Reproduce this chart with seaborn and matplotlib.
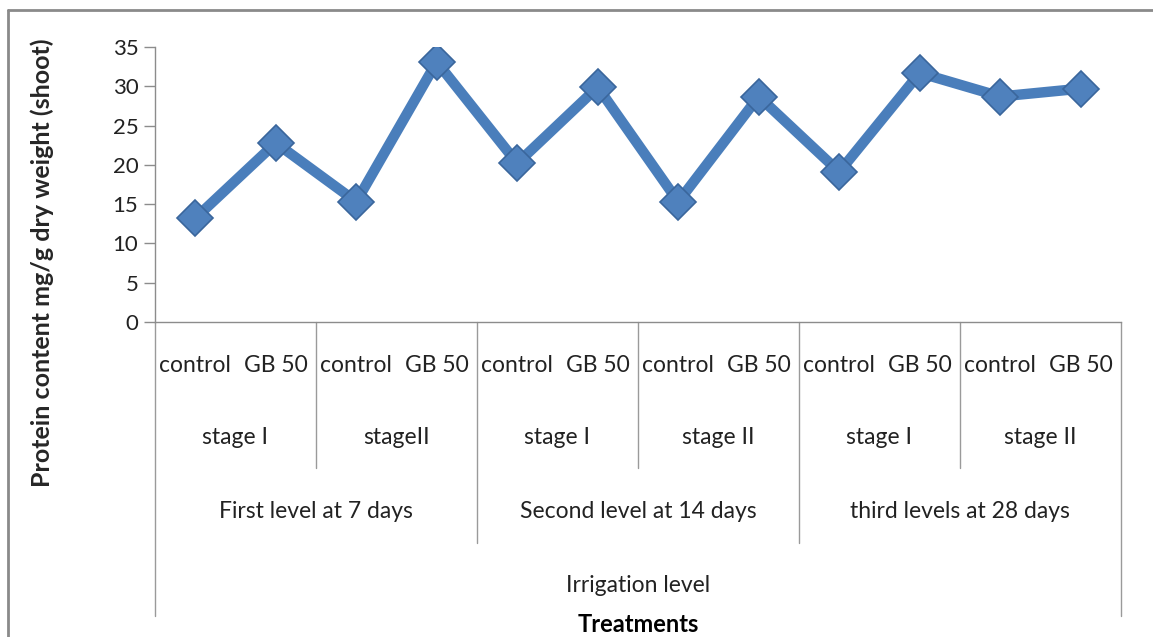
import numpy as np
import pandas as pd
import matplotlib.pyplot as plt
import matplotlib.transforms as mtransforms
from matplotlib.lines import Line2D
import seaborn as sns

# data
treatments = ["control", "GB 50"] * 6
stages = ["stage I", "stageII", "stage I", "stage II", "stage I", "stage II"]
levels = ["First level at 7 days", "Second level at 14 days", "third levels at 28 days"]
protein = [13.2, 22.8, 15.3, 33.1, 20.2, 29.9, 15.3, 28.7, 19.1, 31.7, 28.7, 29.7]
yticks = [0, 5, 10, 15, 20, 25, 30, 35]

df = pd.DataFrame({"pos": np.arange(len(protein)), "treatment": treatments, "protein": protein})

sns.set_style("white")
plt.rcParams['font.family'] = ['Lato', 'DejaVu Sans']

W, H = 1153, 637
fig = plt.figure(figsize=(W / 100, H / 100), dpi=100)
# plot area in pixels: x 155..1121, y 47..322
ax = fig.add_axes([155 / W, (H - 322) / H, (1121 - 155) / W, (322 - 47) / H])

sns.lineplot(data=df, x="pos", y="protein", ax=ax, sort=False,
             color="#4a7ebb", linewidth=7.5, marker="D", markersize=18.5,
             markerfacecolor="#4f81bd", markeredgecolor="#3a669c", markeredgewidth=1.2)

ax.set_xlim(-0.5, len(protein) - 0.5)
ax.set_ylim(0, 35)
ax.set_yticks(yticks)
ax.set_yticklabels([str(v) for v in yticks], fontsize=16, color="#222222")
ax.set_xticks([])
ax.set_xlabel("")
ax.set_ylabel("")
ax.tick_params(axis="y", left=True, length=8, width=1, color="#8c8c8c", pad=4)
for s in ["top", "right"]:
    ax.spines[s].set_visible(False)
for s in ["left", "bottom"]:
    ax.spines[s].set_color("#8c8c8c")
    ax.spines[s].set_linewidth(1)

# multi-level category axis drawn as a table under the plot
trans = mtransforms.blended_transform_factory(ax.transData, ax.transAxes)
ah = 322 - 47
def yf(py):
    return (322 - py) / ah

fs = 16.5
n = len(protein)
for i, t in enumerate(treatments):
    ax.text(i, yf(365), t, transform=trans, ha="center", va="center", fontsize=fs, color="#222222")
for j, s in enumerate(stages):
    ax.text(2 * j + 0.5, yf(438), s, transform=trans, ha="center", va="center", fontsize=fs, color="#222222")
for k, l in enumerate(levels):
    ax.text(4 * k + 1.5, yf(511), l, transform=trans, ha="center", va="center", fontsize=fs, color="#222222")
ax.text((n - 1) / 2, yf(585), "Irrigation level", transform=trans, ha="center", va="center",
        fontsize=fs, color="#222222")
ax.text((n - 1) / 2, yf(625), "Treatments", transform=trans, ha="center", va="center",
        fontsize=17, fontweight="bold", color="black")

for b in range(0, n + 1, 2):
    if b in (0, n):
        bottom = yf(616)
    elif b % 4 == 0:
        bottom = yf(543)
    else:
        bottom = yf(468)
    ax.plot([b - 0.5, b - 0.5], [0, bottom], transform=trans, color="#9a9a9a",
            linewidth=1, clip_on=False)

fig.text(42 / W, (H - 263) / H, "Protein content mg/g dry weight (shoot)", rotation=90,
         ha="center", va="center", fontsize=18, fontweight="bold")

# outer chart border
fig.add_artist(Line2D([8 / W, 1], [(H - 10) / H, (H - 10) / H], color="#8a8a8a", linewidth=2))
fig.add_artist(Line2D([8 / W, 8 / W], [0, (H - 10) / H], color="#8a8a8a", linewidth=2))

fig.savefig("out.png", dpi=100)
